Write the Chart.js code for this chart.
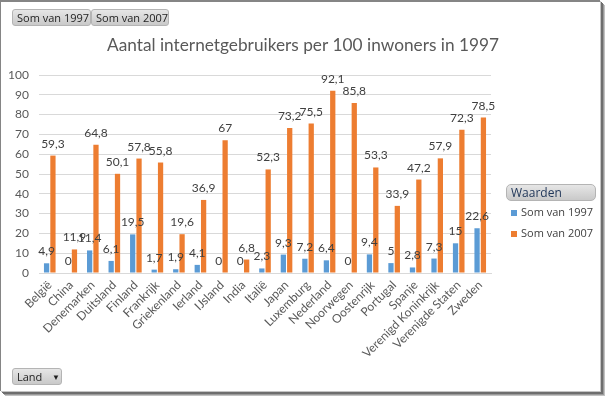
<!DOCTYPE html>
<html>
<head>
<meta charset="utf-8">
<script src="https://cdn.jsdelivr.net/npm/chart.js@4.4.1/dist/chart.umd.min.js"></script>
<style>
  html, body { margin: 0; padding: 0; background: #ffffff; }
  body { width: 606px; height: 396px; position: relative; overflow: hidden; }
  #frame {
    position: absolute; left: 0; top: 0; width: 599px; height: 389px;
    border-top: 2px solid #858585; border-left: 1px solid #858585;
    background: #ffffff;
    box-shadow: 1px 1px 0 #c4c4c4, 2px 2px 0 #6e6e6e, 3px 3px 0 #6e6e6e, 4px 4px 0 #9a9a9a, 5px 5px 0 #c2c2c2;
  }
  canvas { position: absolute; left: 0; top: 0; }
  .btn {
    position: absolute; height: 15px; line-height: 15px;
    font-family: "Open Sans", sans-serif; font-size: 11px; color: #1e1e1e;
    background: linear-gradient(#e6e6e6, #c9c9c9);
    border: 1px solid #b4b4b4; border-radius: 3px;
    padding: 0 4px; box-sizing: content-box; white-space: nowrap;
  }
  .leg { position: absolute; font-family: "Open Sans", sans-serif; font-size: 11px; color: #404040; white-space: nowrap; }
  .sw { position: absolute; width: 6px; height: 6px; }
</style>
</head>
<body>
<div id="frame"></div>
<canvas id="c" width="606" height="396"></canvas>
<div class="btn" style="left:12px;top:9px;width:69px;">Som van 1997</div>
<div class="btn" style="left:91px;top:9px;width:68px;">Som van 2007</div>
<div class="btn" style="left:506px;top:184px;width:80px;height:15px;color:#22385a;font-size:12px;border-radius:5px;">Waarden</div>
<div class="sw" style="left:511px;top:210px;background:#5b9bd5;"></div>
<div class="leg" style="left:521px;top:204px;">Som van 1997</div>
<div class="sw" style="left:511px;top:231px;background:#ed7d31;"></div>
<div class="leg" style="left:521px;top:225px;">Som van 2007</div>
<div class="btn" style="left:12px;top:368px;width:40px;">Land <span style="position:absolute;left:39px;top:0;font-size:8px;">&#9660;</span></div>
<script>
const categories = ["België","China","Denemarken","Duitsland","Finland","Frankrijk","Griekenland","Ierland","IJsland","India","Italië","Japan","Luxemburg","Nederland","Noorwegen","Oostenrijk","Portugal","Spanje","Verenigd Koninkrijk","Verenigde Staten","Zweden"];
const som1997 = [4.9,0,11.4,6.1,19.5,1.7,1.9,4.1,0,0,2.3,9.3,7.2,6.4,0,9.4,5,2.8,7.3,15,22.6];
const som2007 = [59.3,11.9,64.8,50.1,57.8,55.8,19.6,36.9,67,6.8,52.3,73.2,75.5,92.1,85.8,53.3,33.9,47.2,57.9,72.3,78.5];
const seriesNames = ["Som van 1997","Som van 2007"];
const yTicks = [0,10,20,30,40,50,60,70,80,90,100];
const titleText = "Aantal internetgebruikers per 100 inwoners in 1997";

const valueLabels = {
  id: 'valueLabels',
  afterDatasetsDraw(chart) {
    const ctx = chart.ctx;
    ctx.save();
    ctx.font = '12px Lato';
    ctx.fillStyle = '#404040';
    ctx.textAlign = 'center';
    ctx.textBaseline = 'alphabetic';
    chart.data.datasets.forEach((ds, i) => {
      chart.getDatasetMeta(i).data.forEach((el, j) => {
        ctx.fillText(String(ds.data[j]).replace('.', ','), el.x, el.y - 8);
      });
    });
    ctx.restore();
  }
};

new Chart(document.getElementById('c'), {
  type: 'bar',
  data: {
    labels: categories,
    datasets: [
      { label: seriesNames[0], data: som1997, backgroundColor: '#5b9bd5', categoryPercentage: 0.59, barPercentage: 0.83 },
      { label: seriesNames[1], data: som2007, backgroundColor: '#ed7d31', categoryPercentage: 0.59, barPercentage: 0.83 }
    ]
  },
  options: {
    responsive: false,
    animation: false,
    layout: { padding: { left: 0, right: 0, top: 0, bottom: 0 } },
    plugins: {
      legend: { display: false },
      tooltip: { enabled: false },
      title: {
        display: true, text: titleText, color: '#595959',
        font: { family: 'Lato', size: 17.25, weight: 'normal' },
        padding: { top: 35, bottom: 19.3 }
      }
    },
    scales: {
      x: {
        grid: { display: false, drawTicks: false },
        border: { display: true, color: '#d9d9d9' },
        ticks: { color: '#595959', font: { family: 'Lato', size: 12 }, minRotation: 45, maxRotation: 45, autoSkip: false, padding: 5 },
        afterFit(s) { s.height = 123; }
      },
      y: {
        min: 0, max: 100,
        afterBuildTicks(s) { s.ticks = yTicks.map(v => ({ value: v })); },
        grid: { color: '#d9d9d9', drawTicks: false },
        border: { display: false },
        ticks: { color: '#595959', font: { family: 'Lato', size: 12 }, padding: 10 },
        afterFit(s) { s.width = 39; }
      },
      rightSpace: {
        type: 'linear', position: 'right', display: true,
        grid: { display: false, drawTicks: false },
        border: { display: false },
        ticks: { display: false },
        afterFit(s) { s.width = 115; }
      }
    }
  },
  plugins: [valueLabels]
});
</script>
</body>
</html>
